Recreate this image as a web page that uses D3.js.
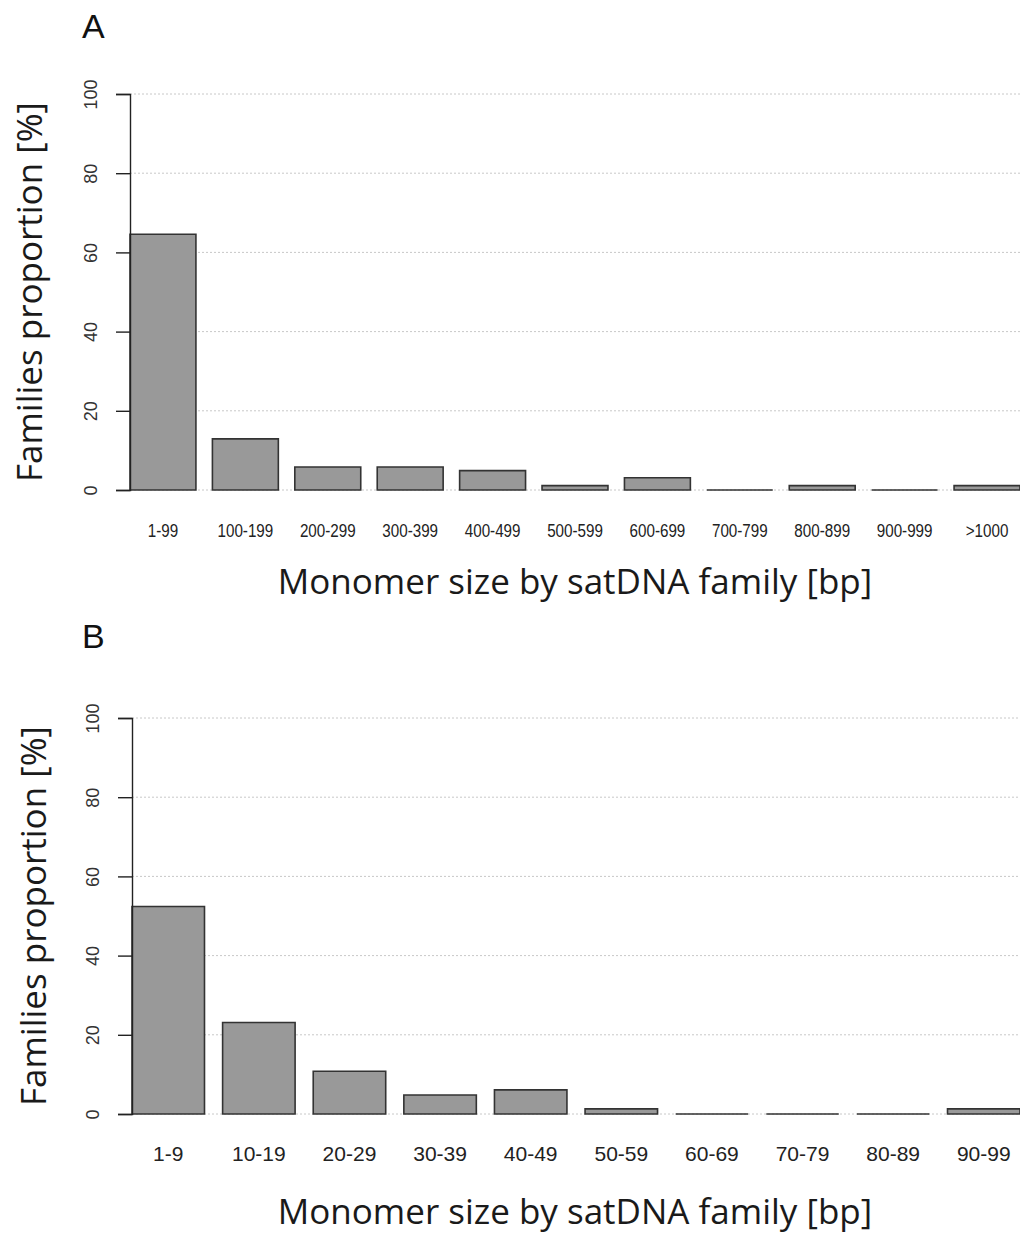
<!DOCTYPE html>
<html>
<head>
<meta charset="utf-8">
<script src="https://cdn.jsdelivr.net/npm/d3@7"></script>
<style>
  body { margin: 0; background: white; }
  svg { display: block; }
</style>
</head>
<body>
<svg width="1020" height="1234"></svg>
<script>
// panel A: monomer size classes (bp) and proportion of families (%)
const catsA = ['1-99','100-199','200-299','300-399','400-499','500-599','600-699','700-799','800-899','900-999','>1000'];
const valsA = [64.6, 12.9, 5.8, 5.8, 4.9, 1.1, 3.1, 0, 1.1, 0, 1.1];

// panel B: zoom into the 1-99 class
const catsB = ['1-9','10-19','20-29','30-39','40-49','50-59','60-69','70-79','80-89','90-99'];
const valsB = [52.4, 23.1, 10.8, 4.8, 6.1, 1.3, 0, 0, 0, 1.3];

const yTicks = [0, 20, 40, 60, 80, 100];

const svg = d3.select('svg');
const width = +svg.attr('width');

const titleFont = '"Open Sans", "Noto Sans", sans-serif';
const arial = '"Liberation Sans", Arial, sans-serif';

function panel(opts) {
  const {cats, vals, left, top, bottom, letter, letterY, catSize, catScale, catY, xTitleY, yTitleX} = opts;

  const g = svg.append('g');

  const y = d3.scaleLinear().domain([0, 100]).range([bottom, top]);

  // band scale: first bar sits on the y axis, last bar runs to the right edge
  const x = d3.scaleBand()
    .domain(cats)
    .range([left, width])
    .paddingInner(0.2)
    .paddingOuter(0)
    .align(0);

  // dotted grid
  g.append('g').selectAll('line')
    .data(yTicks)
    .join('line')
      .attr('x1', left)
      .attr('x2', width)
      .attr('y1', d => y(d))
      .attr('y2', d => y(d))
      .attr('stroke', '#c8c8c8')
      .attr('stroke-width', 1)
      .attr('stroke-dasharray', '2,2');

  // bars as paths so that empty classes still show their outline
  g.append('g').selectAll('path')
    .data(vals)
    .join('path')
      .attr('d', (d, i) => {
        const x0 = x(cats[i]), x1 = x0 + x.bandwidth();
        return `M${x0},${bottom}V${y(d)}H${x1}V${bottom}Z`;
      })
      .attr('fill', '#999999')
      .attr('stroke', '#333')
      .attr('stroke-width', 1.6);

  // y axis
  const yAxis = g.append('g')
    .attr('transform', `translate(${left},0)`)
    .call(d3.axisLeft(y).tickValues(yTicks).tickSize(14).tickPadding(0));
  yAxis.select('.domain').attr('stroke', '#222').attr('stroke-width', 1.4);
  yAxis.selectAll('.tick line').attr('stroke', '#222').attr('stroke-width', 1.4);
  yAxis.selectAll('.tick text')
    .attr('transform', 'rotate(-90)')
    .attr('x', 0)
    .attr('y', -39)
    .attr('dy', '0.35em')
    .attr('text-anchor', 'middle')
    .attr('fill', '#333')
    .style('font-family', arial)
    .style('font-size', '18px');

  // category labels
  g.append('g').selectAll('text')
    .data(cats)
    .join('text')
      .attr('transform', d => `translate(${x(d) + x.bandwidth() / 2},${catY}) scale(${catScale},1)`)
      .attr('text-anchor', 'middle')
      .attr('fill', '#222')
      .style('font-family', arial)
      .style('font-size', catSize)
      .text(d => d);

  // axis titles
  g.append('text')
    .attr('x', 575)
    .attr('y', xTitleY)
    .attr('text-anchor', 'middle')
    .attr('fill', '#1a1a1a')
    .style('font-family', titleFont)
    .style('font-size', '35px')
    .text('Monomer size by satDNA family [bp]');

  g.append('text')
    .attr('transform', `translate(${yTitleX},${(top + bottom) / 2}) rotate(-90)`)
    .attr('text-anchor', 'middle')
    .attr('fill', '#1a1a1a')
    .style('font-family', titleFont)
    .style('font-size', '35px')
    .text('Families proportion [%]');

  g.append('text')
    .attr('x', 82)
    .attr('y', letterY)
    .attr('fill', '#111')
    .style('font-family', arial)
    .style('font-size', '34px')
    .text(letter);
}

panel({
  cats: catsA, vals: valsA, left: 130, top: 94, bottom: 490,
  letter: 'A', letterY: 38,
  catSize: '19px', catScale: 0.8, catY: 537,
  xTitleY: 594, yTitleX: 42
});

panel({
  cats: catsB, vals: valsB, left: 132, top: 718, bottom: 1114,
  letter: 'B', letterY: 648,
  catSize: '21px', catScale: 1, catY: 1161,
  xTitleY: 1224, yTitleX: 46
});
</script>
</body>
</html>
